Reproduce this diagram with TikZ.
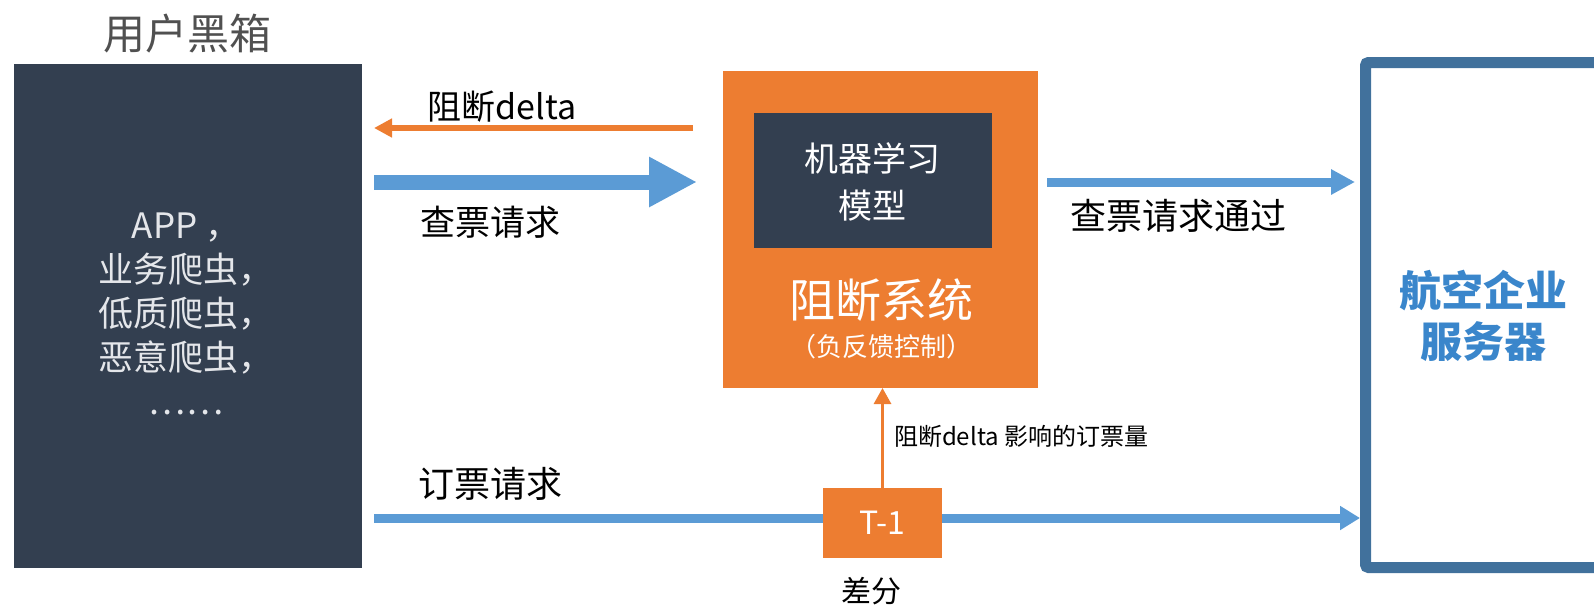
\documentclass[tikz,border=0pt]{standalone}
\usepackage{fontspec}
\setmainfont{Noto Sans CJK SC}
\usetikzlibrary{arrows.meta}
\definecolor{navy}{HTML}{333F50}
\definecolor{orng}{HTML}{ED7D31}
\definecolor{lblue}{HTML}{5B9BD5}
\definecolor{sblue}{HTML}{41719C}
\definecolor{tblue}{HTML}{3A86CB}
\definecolor{tgray}{HTML}{505050}
\definecolor{boxtext}{HTML}{E4E6EA}
\newcommand\myfs[2]{\fontsize{#1}{#2}\selectfont}
\tikzset{
  fillbox/.style={draw=none, inner sep=0pt},
  lbl/.style={text=black, inner sep=0pt},
  bluearrow/.style={draw=lblue},
  orangearrow/.style={draw=orng},
}
\begin{document}
\begin{tikzpicture}[x=1pt,y=-1pt, every node/.style={inner sep=0pt, outer sep=0pt}]
\useasboundingbox (0,0) rectangle (1594,606);
% user black box
\node[fillbox, fill=navy, minimum width=348pt, minimum height=504pt] (user) at (188,316) {};
\node[text=tgray, font=\myfs{42}{50}] (title) at (187,34) {用户黑箱};
\node[text=boxtext, font=\myfs{35}{44}, align=center] (usertext) at (186,314)
  {APP ，\\业务爬虫，\\低质爬虫，\\恶意爬虫，\\……};
% blocking system
\node[fillbox, fill=orng, minimum width=315pt, minimum height=317pt] (sys) at (880.5,229.5) {};
\node[fillbox, fill=navy, minimum width=238pt, minimum height=135pt] (ml) at (873,180.5) {};
\node[text=white, font=\myfs{34}{47}, align=center] (mltext) at (872,182) {机器学习\\模型};
\node[text=white, font=\myfs{46}{50}] (systext) at (881,300) {阻断系统};
\node[text=white, font=\myfs{26}{30}] (fbtext) at (881,347) {（负反馈控制）};
% airline server
\node[draw=sblue, line width=11pt, rounded corners=3pt, outer sep=5.5pt,
      minimum width=259.5pt, minimum height=505pt] (srv) at (1495.25,315) {};
\node[text=tblue, font=\bfseries\myfs{42}{51}, align=center] (srvtext) at (1483,316) {航空企业\\服务器};
% arrows
\draw[orangearrow, line width=6pt, -{Triangle[length=18pt,width=18pt]},
      shorten <=30pt, shorten >=12pt] (sys.west |- 0,128) -- (user.east |- 0,128);
\draw[bluearrow, line width=15pt, -{Triangle[length=48pt,width=47pt]},
      shorten <=12pt, shorten >=26pt] (user.east |- 0,182) -- (sys.west |- 0,182);
\draw[bluearrow, line width=9pt, -{Triangle[length=24pt,width=24pt]},
      shorten <=9pt, shorten >=5pt] (sys.east |- 0,182) -- (srv.west |- 0,182);
\draw[bluearrow, line width=9pt, -{Triangle[length=20pt,width=23pt]},
      shorten <=12pt] (user.east |- 0,518) -- (srv.west |- 0,518);
% T-1 box
\node[fillbox, fill=orng, minimum width=119pt, minimum height=70pt, text=white,
      font=\myfs{32}{36}] (t1) at (882.5,523) {T-1};
\draw[orangearrow, line width=3pt, -{Triangle[length=16pt,width=17pt]}]
      (t1.north) -- (sys.south -| t1.north);
% labels
\node[lbl, font=\myfs{34}{40}] (l1) at (502,107) {阻断delta};
\node[lbl, font=\myfs{35}{40}] (l2) at (490,222) {查票请求};
\node[lbl, font=\myfs{36}{40}] (l3) at (1178,216) {查票请求通过};
\node[lbl, font=\myfs{36}{40}] (l4) at (490,484) {订票请求};
\node[lbl, font=\myfs{24}{30}, anchor=west] (l5) at (894,436) {阻断delta 影响的订票量};
\node[lbl, font=\myfs{30}{36}] (l6) at (871,591) {差分};
\end{tikzpicture}
\end{document}
